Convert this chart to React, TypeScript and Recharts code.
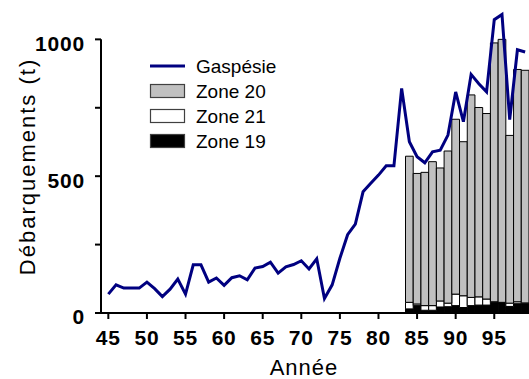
import {
  Bar,
  ComposedChart,
  Legend,
  Line,
  ReferenceLine,
  XAxis,
  YAxis,
} from "recharts";

const YEARS = [
  45, 46, 47, 48, 49, 50, 51, 52, 53, 54, 55, 56, 57, 58, 59, 60, 61, 62, 63,
  64, 65, 66, 67, 68, 69, 70, 71, 72, 73, 74, 75, 76, 77, 78, 79, 80, 81, 82,
  83, 84, 85, 86, 87, 88, 89, 90, 91, 92, 93, 94, 95, 96, 97, 98, 99,
];

// total landings, Gaspésie (t)
const GASPESIE = [
  69, 103, 91, 91, 91, 113, 89, 60, 87, 124, 69, 176, 176, 113, 128, 101, 129,
  136, 121, 164, 170, 186, 146, 169, 177, 191, 161, 198, 53, 103, 200, 286, 325,
  443, 474, 504, 538, 538, 821, 626, 571, 549, 589, 595, 650, 808, 699, 872, 838,
  808, 1072, 1091, 707, 962, 954,
];

// zones only reported from 1984
const ZONE_YEARS = [84, 85, 86, 87, 88, 89, 90, 91, 92, 93, 94, 95, 96, 97, 98, 99];
const ZONE19 = [15, 27, 10, 10, 22, 23, 27, 20, 27, 29, 29, 39, 37, 24, 34, 34];
const ZONE21 = [24, 6, 17, 17, 22, 13, 42, 43, 30, 30, 22, 2, 2, 12, 7, 3];
const ZONE20 = [534, 477, 487, 526, 486, 556, 639, 563, 740, 692, 678, 946, 961, 613, 849, 850];

const X_TICKS = [45, 50, 55, 60, 65, 70, 75, 80, 85, 90, 95];
const Y_TICKS = [0, 250, 500, 750, 1000];
const Y_LABELED = [0, 500, 1000];

const NAVY = "#000080";
const FONT = "Arial, 'Liberation Sans', sans-serif";

const LEGEND = [
  { name: "Gaspésie", kind: "line", color: NAVY },
  { name: "Zone 20", kind: "box", color: "#c0c0c0" },
  { name: "Zone 21", kind: "box", color: "#ffffff" },
  { name: "Zone 19", kind: "box", color: "#000000" },
];

const data = YEARS.map((year, i) => {
  const z = ZONE_YEARS.indexOf(year);
  return {
    year,
    gaspesie: GASPESIE[i],
    zone19: z >= 0 ? ZONE19[z] : null,
    zone21: z >= 0 ? ZONE21[z] : null,
    zone20: z >= 0 ? ZONE20[z] : null,
  };
});

function ChartLegend() {
  return (
    <svg width={150} height={105} style={{ fontFamily: FONT }}>
      {LEGEND.map((item, i) => {
        const cy = 16 + i * 25;
        return (
          <g key={item.name}>
            {item.kind === "line" ? (
              <line x1={10} x2={45} y1={cy} y2={cy} stroke={item.color} strokeWidth={3} />
            ) : (
              <rect
                x={10.5}
                y={cy - 6.5}
                width={34}
                height={13}
                fill={item.color}
                stroke="#404040"
                strokeWidth={1.2}
              />
            )}
            <text x={56} y={cy + 7} fontSize={19} fill="#000">
              {item.name}
            </text>
          </g>
        );
      })}
    </svg>
  );
}

function YTitle({ viewBox }: any) {
  const cx = viewBox.x + 35;
  const cy = viewBox.y + viewBox.height / 2 + 4;
  return (
    <text
      x={cx}
      y={cy}
      transform={`rotate(-90, ${cx}, ${cy})`}
      textAnchor="middle"
      fontSize={22}
      letterSpacing={2}
      fontFamily={FONT}
      fill="#000"
    >
      Débarquements (t)
    </text>
  );
}

function XTitle({ viewBox }: any) {
  const cx = viewBox.x + viewBox.width / 2 - 11;
  const y = viewBox.y + viewBox.height - 4;
  return (
    <text
      x={cx}
      y={y}
      textAnchor="middle"
      fontSize={22}
      letterSpacing={1}
      fontFamily={FONT}
      fill="#000"
    >
      Année
    </text>
  );
}

export default function App() {
  const axisStyle = { stroke: "#000", strokeWidth: 2 };
  const tickFont = {
    fontSize: 21,
    fontWeight: "bold",
    fill: "#000",
    fontFamily: FONT,
    letterSpacing: 0.8,
  };

  return (
    <div style={{ position: "absolute", left: 0, top: 0, background: "#fff" }}>
      <ComposedChart
        width={529}
        height={379}
        data={data}
        margin={{ top: 12, right: 0, bottom: 0, left: 0 }}
      >
        <XAxis
          dataKey="year"
          type="number"
          domain={[44.05, 99.5]}
          ticks={X_TICKS}
          interval={0}
          height={66}
          axisLine={axisStyle}
          tickLine={axisStyle}
          tickSize={6}
          tickMargin={11}
          tick={tickFont}
          label={{ content: XTitle }}
        />
        <YAxis
          type="number"
          domain={[0, 1100]}
          ticks={Y_TICKS}
          interval={0}
          width={101}
          axisLine={false}
          tickLine={axisStyle}
          tickSize={6}
          tickMargin={10}
          tick={{ ...tickFont, dy: 4 }}
          tickFormatter={(v: number) => (Y_LABELED.includes(v) ? String(v) : "")}
          label={{ content: YTitle }}
        />
        <ReferenceLine
          segment={[
            { x: 44.05, y: 0 },
            { x: 44.05, y: 1000 },
          ]}
          stroke="#000"
          strokeWidth={2}
          ifOverflow="visible"
        />
        <Bar dataKey="zone19" stackId="z" fill="#000" stroke="#000" strokeWidth={1} barSize={7.7} isAnimationActive={false} />
        <Bar dataKey="zone21" stackId="z" fill="#fff" stroke="#000" strokeWidth={1} barSize={7.7} isAnimationActive={false} />
        <Bar dataKey="zone20" stackId="z" fill="#c0c0c0" stroke="#000" strokeWidth={1} barSize={7.7} isAnimationActive={false} />
        <Line
          dataKey="gaspesie"
          type="linear"
          stroke={NAVY}
          strokeWidth={3}
          dot={false}
          isAnimationActive={false}
        />
        <Legend
          layout="vertical"
          align="center"
          verticalAlign="middle"
          content={() => <ChartLegend />}
          wrapperStyle={{ left: 140, top: 50, width: 150, height: 105 }}
        />
      </ComposedChart>
    </div>
  );
}
